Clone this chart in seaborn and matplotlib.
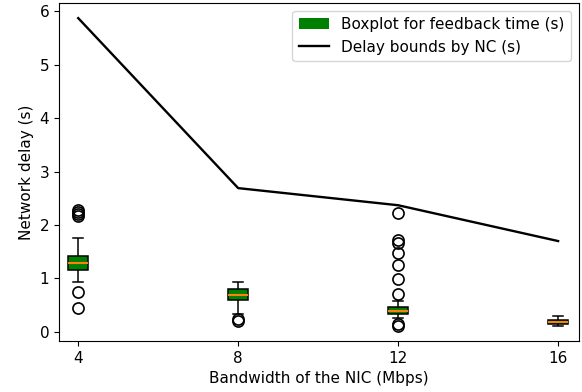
import matplotlib
matplotlib.use("Agg")
import matplotlib.pyplot as plt
from matplotlib.patches import Patch
from matplotlib.lines import Line2D
import seaborn as sns
import pandas as pd

# Bandwidth categories (Mbps)
bandwidths = [4, 8, 12, 16]

# Feedback time samples (s) per bandwidth
feedback_4 = [0.45, 0.75, 0.94, 1.05, 1.12, 1.16, 1.19, 1.22, 1.25, 1.27, 1.295,
              1.32, 1.35, 1.38, 1.40, 1.42, 1.76, 2.16, 2.21, 2.25, 2.29]
feedback_8 = [0.21, 0.25, 0.33, 0.59, 0.63, 0.67, 0.70, 0.73, 0.77, 0.80, 0.84,
              0.88, 0.94]
feedback_12 = [0.12, 0.14, 0.26, 0.28, 0.30, 0.31, 0.32, 0.33, 0.335,
               0.34, 0.35, 0.355, 0.36, 0.37, 0.375, 0.38, 0.39,
               0.40, 0.41, 0.42, 0.43, 0.44, 0.45, 0.455, 0.46, 0.57,
               0.71, 0.985, 1.25, 1.47, 1.67, 1.72, 2.23]
feedback_16 = [0.11, 0.13, 0.14, 0.16, 0.185, 0.20, 0.22, 0.26, 0.30]

# Delay bounds computed by network calculus (s)
delay_bounds = [5.87, 2.69, 2.37, 1.70]

rows = []
for bw, vals in zip(bandwidths, [feedback_4, feedback_8, feedback_12, feedback_16]):
    for v in vals:
        rows.append({"bw": bw, "delay": v})
df = pd.DataFrame(rows)

plt.rcParams["font.size"] = 11

fig = plt.figure(figsize=(5.82, 3.92), dpi=100)
ax = fig.add_axes([0.1014, 0.130, 0.8926, 0.862])

sns.boxplot(data=df, x="bw", y="delay", native_scale=True, width=0.125,
            color="green", saturation=1, linecolor="black", linewidth=1.1,
            medianprops=dict(color="C1", linewidth=1.5),
            flierprops=dict(marker="o", markerfacecolor="none",
                            markeredgecolor="black", markersize=8,
                            markeredgewidth=1.2),
            ax=ax)
sns.lineplot(x=bandwidths, y=delay_bounds, color="black", linewidth=1.7, ax=ax)

ax.set_xticks(bandwidths)
ax.set_xticklabels([str(b) for b in bandwidths])
ax.set_xlim(3.52, 16.51)
ax.set_ylim(-0.17, 6.15)
ax.set_xlabel("Bandwidth of the NIC (Mbps)", fontsize=11)
ax.set_ylabel("Network delay (s)", fontsize=11)
ax.tick_params(labelsize=11)

handles = [Patch(facecolor="green", label="Boxplot for feedback time (s)"),
           Line2D([0], [0], color="black", linewidth=1.7, label="Delay bounds by NC (s)")]
ax.legend(handles=handles, loc="upper right", fontsize=11)

fig.savefig("out.png", dpi=100)
